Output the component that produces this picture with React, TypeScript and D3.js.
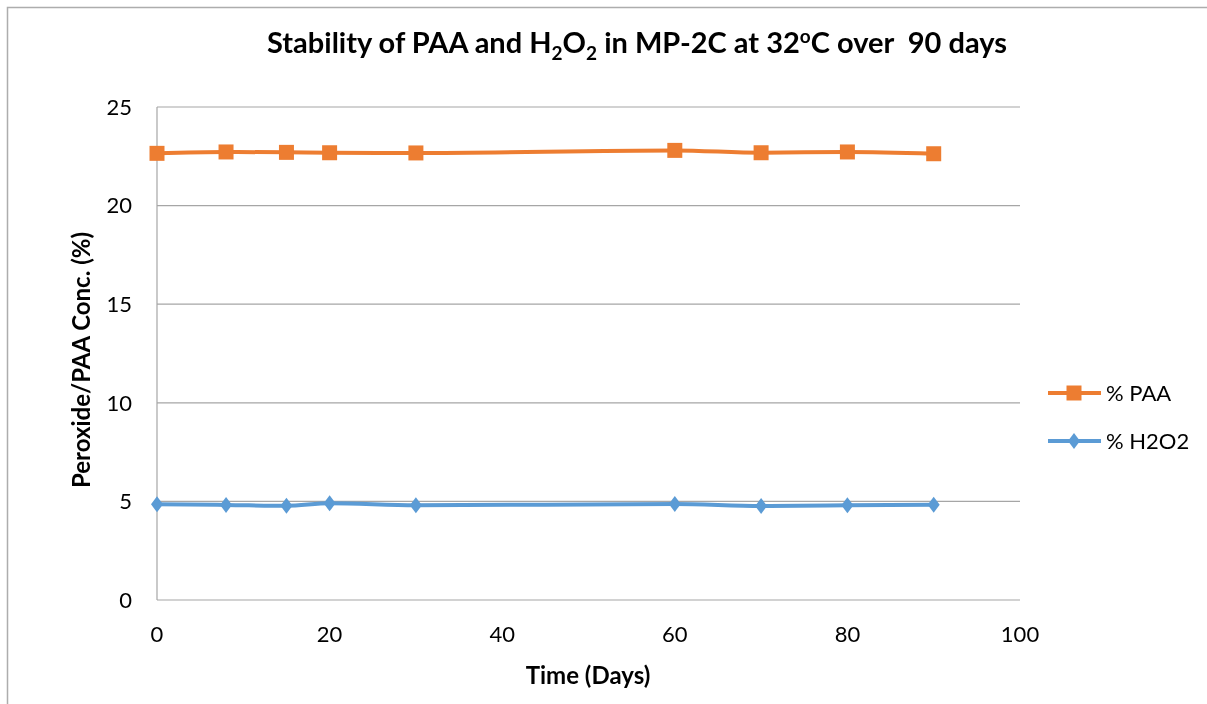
import React, { useRef, useEffect } from 'react';
import * as d3 from 'd3';

const days = [0, 8, 15, 20, 30, 60, 70, 80, 90];
const paa = [22.65, 22.72, 22.7, 22.68, 22.67, 22.8, 22.68, 22.72, 22.63];
const h2o2 = [4.85, 4.82, 4.78, 4.9, 4.8, 4.87, 4.77, 4.8, 4.83];
const xTicks = [0, 20, 40, 60, 80, 100];
const yTicks = [0, 5, 10, 15, 20, 25];

const ORANGE = '#ED7D31';
const BLUE = '#5B9BD5';
const FONT = 'Lato, "Open Sans", sans-serif';

// Excel-like diamond: a bit wider than d3's default
const excelDiamond = {
  draw(ctx: d3.Path, size: number) {
    const h = Math.sqrt(size) / 2;
    const w = h * 0.75;
    ctx.moveTo(0, -h);
    ctx.lineTo(w, 0);
    ctx.lineTo(0, h);
    ctx.lineTo(-w, 0);
    ctx.closePath();
  },
};

const App: React.FC = () => {
  const ref = useRef<SVGSVGElement>(null);

  useEffect(() => {
    const W = 1207;
    const H = 704;
    const plot = { left: 157, right: 1020, top: 107, bottom: 600 };

    const svg = d3.select(ref.current).attr('width', W).attr('height', H);
    svg.selectAll('*').remove();

    // outer chart border (only left and top are in view)
    svg.append('path')
      .attr('d', `M7.5,${H} V7.5 H${W}`)
      .attr('fill', 'none').attr('stroke', '#adadad').attr('stroke-width', 1.5);

    const x = d3.scaleLinear().domain([0, 100]).range([plot.left, plot.right]);
    const y = d3.scaleLinear().domain([0, 25]).range([plot.bottom, plot.top]);

    // gridlines
    svg.append('g')
      .selectAll('line')
      .data(yTicks)
      .join('line')
      .attr('x1', plot.left).attr('x2', plot.right)
      .attr('y1', d => y(d)).attr('y2', d => y(d))
      .attr('stroke', '#a6a6a6').attr('stroke-width', 1.2);

    // left axis line
    svg.append('line')
      .attr('x1', plot.left).attr('x2', plot.left)
      .attr('y1', plot.top).attr('y2', plot.bottom)
      .attr('stroke', '#a6a6a6').attr('stroke-width', 1.2);

    // tick labels
    svg.append('g')
      .selectAll('text')
      .data(yTicks)
      .join('text')
      .attr('x', 132).attr('y', d => y(d))
      .attr('dy', '0.35em')
      .attr('text-anchor', 'end')
      .attr('font-family', FONT).attr('font-size', 22)
      .text(d => d);

    svg.append('g')
      .selectAll('text')
      .data(xTicks)
      .join('text')
      .attr('x', d => x(d)).attr('y', 634)
      .attr('dy', '0.35em')
      .attr('text-anchor', 'middle')
      .attr('font-family', FONT).attr('font-size', 22)
      .text(d => d);

    // axis titles
    svg.append('text')
      .attr('x', 588).attr('y', 676).attr('dy', '0.35em')
      .attr('text-anchor', 'middle')
      .attr('font-family', FONT).attr('font-size', 24).attr('font-weight', 'bold')
      .text('Time (Days)');

    svg.append('text')
      .attr('transform', 'translate(82,360) rotate(-90)')
      .attr('dy', '0.35em')
      .attr('text-anchor', 'middle')
      .attr('font-family', FONT).attr('font-size', 24).attr('font-weight', 'bold')
      .text('Peroxide/PAA Conc. (%)');

    // title with sub/superscripts
    const title = svg.append('text')
      .attr('x', 637).attr('y', 53)
      .attr('text-anchor', 'middle')
      .attr('xml:space', 'preserve')
      .attr('font-family', FONT).attr('font-size', 29).attr('font-weight', 'bold');
    title.append('tspan').text('Stability of PAA and H');
    title.append('tspan').attr('font-size', 19).attr('dy', 7).text('2');
    title.append('tspan').attr('dy', -7).text('O');
    title.append('tspan').attr('font-size', 19).attr('dy', 7).text('2');
    title.append('tspan').attr('dy', -7).text(' in MP-2C at 32');
    title.append('tspan').attr('font-size', 19).attr('dy', -10).text('o');
    title.append('tspan').attr('dy', 10).text('C over  90 days');

    const series = [
      { name: '% PAA', values: paa, color: ORANGE, marker: d3.symbolSquare, size: 225 },
      { name: '% H2O2', values: h2o2, color: BLUE, marker: excelDiamond, size: 256 },
    ];

    const line = d3.line<[number, number]>()
      .x(d => x(d[0]))
      .y(d => y(d[1]))
      .curve(d3.curveMonotoneX);

    series.forEach((s, i) => {
      const pts = days.map((d, j) => [d, s.values[j]] as [number, number]);
      svg.append('path')
        .datum(pts)
        .attr('fill', 'none')
        .attr('stroke', s.color)
        .attr('stroke-width', 4)
        .attr('d', line);

      svg.append('g')
        .selectAll('path')
        .data(pts)
        .join('path')
        .attr('transform', d => `translate(${x(d[0])},${y(d[1])})`)
        .attr('d', d3.symbol().type(s.marker).size(s.size)())
        .attr('fill', s.color);

      // legend
      const ly = 393 + i * 48;
      svg.append('line')
        .attr('x1', 1048).attr('x2', 1101)
        .attr('y1', ly).attr('y2', ly)
        .attr('stroke', s.color).attr('stroke-width', 4);
      svg.append('path')
        .attr('transform', `translate(1074,${ly})`)
        .attr('d', d3.symbol().type(s.marker).size(s.size)())
        .attr('fill', s.color);
      svg.append('text')
        .attr('x', 1106).attr('y', ly).attr('dy', '0.35em')
        .attr('font-family', FONT).attr('font-size', 22)
        .text(s.name);
    });
  }, []);

  return (
    <div style={{ position: 'fixed', left: 0, top: 0 }}>
      <svg ref={ref} style={{ display: 'block' }}></svg>
    </div>
  );
};

export default App;
